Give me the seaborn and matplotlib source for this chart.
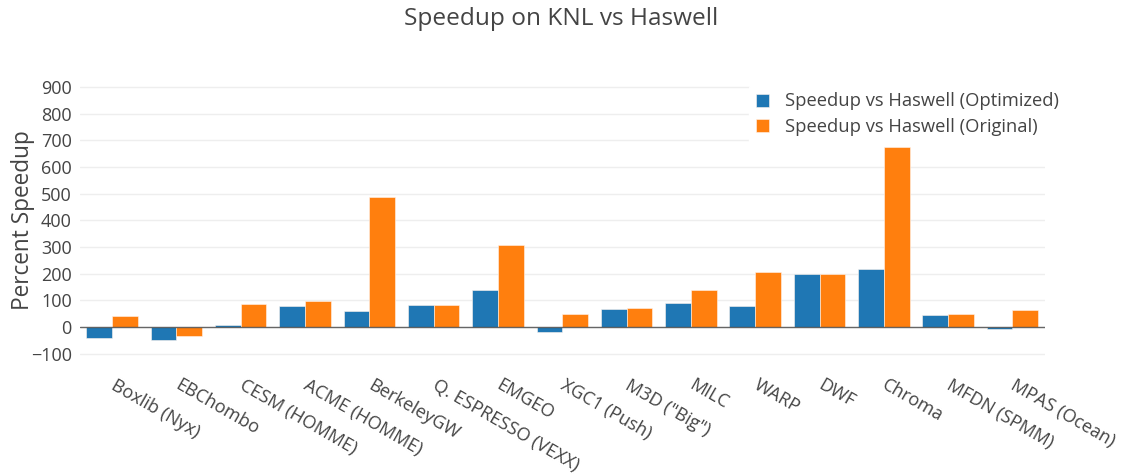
import seaborn as sns
import matplotlib.pyplot as plt
import pandas as pd

# categories and series
apps = ["Boxlib (Nyx)", "EBChombo", "CESM (HOMME)", "ACME (HOMME)", "BerkeleyGW",
        "Q. ESPRESSO (VEXX)", "EMGEO", "XGC1 (Push)", 'M3D ("Big")', "MILC",
        "WARP", "DWF", "Chroma", "MFDN (SPMM)", "MPAS (Ocean)"]
optimized = [-41, -50, 9, 80, 60, 84, 139, -20, 66, 89, 80, 199, 219, 46, -7]
original = [43, -35, 88, 99, 488, 84, 309, 48, 70, 139, 205, 199, 677, 50, 65]
series_names = ["Speedup vs Haswell (Optimized)", "Speedup vs Haswell (Original)"]
yticks = [-100, 0, 100, 200, 300, 400, 500, 600, 700, 800, 900]

df = pd.DataFrame({
    "app": apps * 2,
    "speedup": optimized + original,
    "series": [series_names[0]] * len(apps) + [series_names[1]] * len(apps),
})

sns.set_style("white")
plt.rcParams["font.family"] = ["Open Sans", "DejaVu Sans"]
text_color = "#444444"

fig = plt.figure(figsize=(11.22, 4.75), dpi=100)
ax = fig.add_axes([0.0713, 0.244, 0.8597, 0.584])

sns.barplot(data=df, x="app", y="speedup", hue="series",
            palette=["#1f77b4", "#ff7f0e"], saturation=1, width=0.8, gap=0,
            edgecolor="#fff5ee", linewidth=0.4, ax=ax, zorder=3)

ax.set_ylim(-120, 920)
ax.set_xlim(-0.5, len(apps) - 0.5)
ax.set_yticks(yticks)
ax.set_yticklabels([str(t).replace("-", "\u2212") for t in yticks],
                   fontsize=13, color=text_color)
ax.grid(axis="y", color="#eeeeee", linewidth=1, zorder=0)
ax.axhline(0, color="#444444", linewidth=1, alpha=0.8, zorder=4)
ax.tick_params(axis="both", length=0)
ax.tick_params(axis="y", pad=6)

ax.set_xticks(range(len(apps)))
ax.set_xticklabels(apps, rotation=-30, ha="left", va="center",
                   rotation_mode="anchor", fontsize=13, color=text_color)
ax.tick_params(axis="x", pad=18)

for s in ax.spines.values():
    s.set_visible(False)

ax.set_xlabel("")
ax.set_ylabel("Percent Speedup", fontsize=16.3, color=text_color, va="center")
ax.yaxis.set_label_coords(-0.059, 0.5)

ax.legend_.remove()
handles, labels = ax.get_legend_handles_labels()
leg = fig.legend(handles, labels, loc="upper left", bbox_to_anchor=(0.659, 0.84),
                 frameon=True, fontsize=13.2, labelcolor=text_color,
                 handlelength=0.7, handleheight=0.7, handletextpad=0.9,
                 borderpad=0.4, labelspacing=0.4)
leg.get_frame().set_facecolor("white")
leg.get_frame().set_edgecolor("white")
leg.get_frame().set_alpha(1)
leg.set_zorder(10)

fig.suptitle("Speedup on KNL vs Haswell", fontsize=17.6, color=text_color, y=0.985)

fig.savefig("out.png", dpi=100)
